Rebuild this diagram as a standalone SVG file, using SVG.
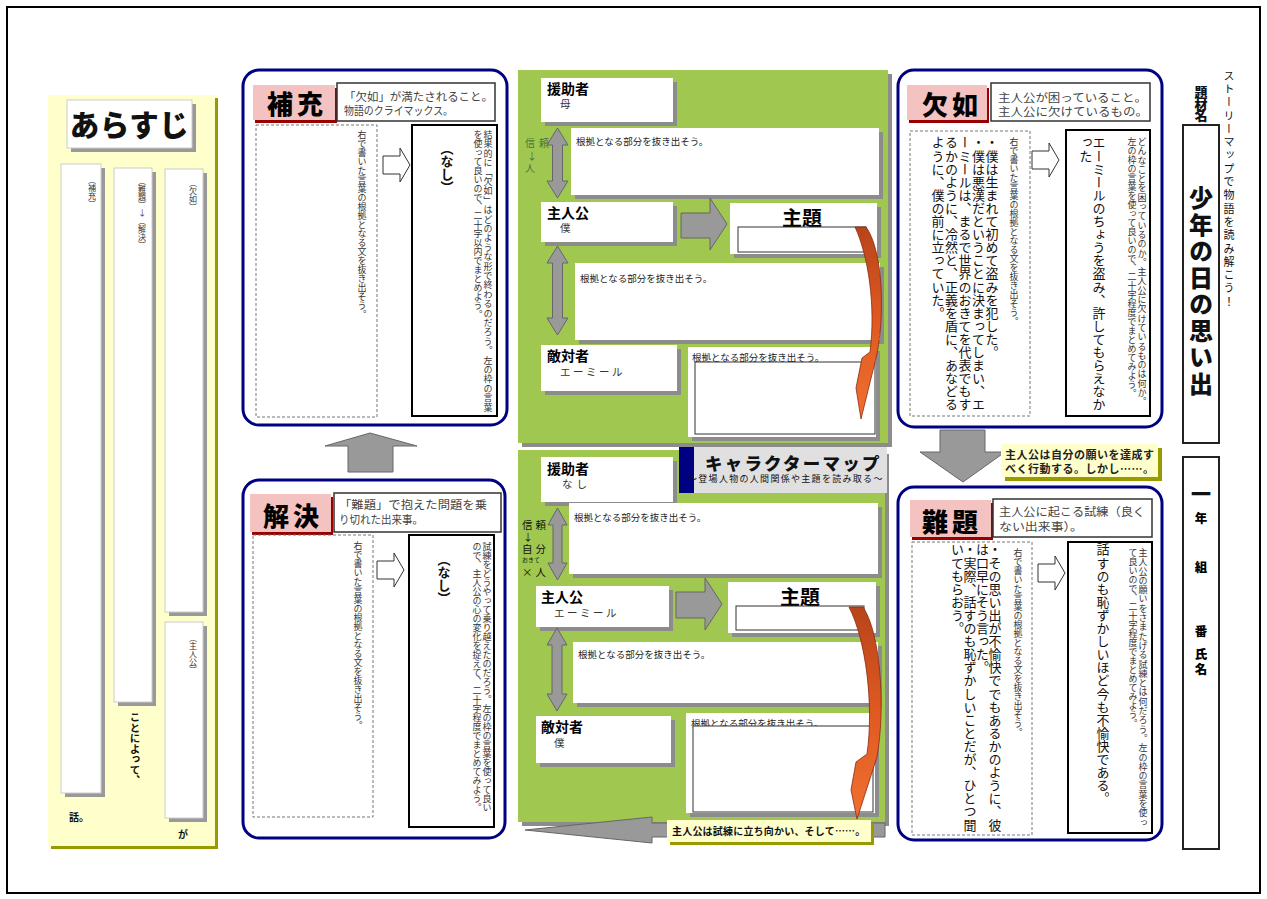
<svg xmlns="http://www.w3.org/2000/svg" width="1267" height="899" viewBox="0 0 1267 899">
<defs>
<style>
text { font-family: "Noto Sans CJK JP", "Noto Sans", sans-serif; fill:#111; }
.v { writing-mode: vertical-rl; }
.ins { font-size:9px; fill:#333; }
.big { font-size:13px; fill:#111; letter-spacing:0.1px; }
.sh { fill:#8c8c8c; }
.wb { fill:#fff; }
.blue { fill:#fff; stroke:#000080; stroke-width:3; }
.pink { fill:#f5c2c2; }
.pinksh { fill:#990000; }
.ttl { font-size:26px; font-weight:900; letter-spacing:4px; fill:#000; }
.desc { fill:#fff; stroke:#333; stroke-width:1.5; }
.dt { font-size:11.5px; fill:#444; }
.dash { fill:#fff; stroke:#777; stroke-width:1; stroke-dasharray:3 2; }
.solid { fill:#fff; stroke:#000; stroke-width:2; }
.gar { fill:#999; stroke:#666; stroke-width:1; }
.har { fill:#fff; stroke:#333; stroke-width:1; }
.green { fill:#a0c850; }
.role { font-size:14px; font-weight:700; fill:#000; }
.name { font-size:10.5px; fill:#333; }
.ev { font-size:9.5px; fill:#222; }
.theme { font-size:20px; font-weight:700; fill:#000; }
.inner { fill:#fff; stroke:#333; stroke-width:1; }
.yel { fill:#ffffcc; }
.olive { fill:#999900; }
.cl { font-size:11px; font-weight:700; fill:#222; }
.col { fill:#fff; stroke:#ccc; stroke-width:1; }
.lab { font-size:8px; fill:#333; }
.side { font-size:10px; fill:#4f6f3f; }
.nm { font-size:12.5px; font-weight:900; fill:#000; }
</style>
<linearGradient id="og" x1="0" y1="0" x2="0" y2="1">
<stop offset="0" stop-color="#b8441a"/>
<stop offset="0.5" stop-color="#e05a22"/>
<stop offset="1" stop-color="#f07030"/>
</linearGradient>
<path id="ha" d="M0,-9 H17 V-17 L27,0 L17,17 V9 H0 Z"/>
</defs>

<rect x="7" y="7" width="1253" height="886" fill="#fff" stroke="#000" stroke-width="2"/>

<!-- あらすじ -->
<g id="arasuji">
<rect x="51" y="98" width="167" height="751" class="olive"/>
<rect x="48" y="95" width="167" height="751" class="yel"/>
<rect x="71" y="104" width="125" height="48" fill="#999"/>
<rect x="67" y="100" width="125" height="48" class="col"/>
<text x="129.5" y="136" font-size="29.5" font-weight="900" text-anchor="middle" style="letter-spacing:0.5px" fill="#000">あらすじ</text>
<rect x="65" y="168" width="40" height="629" fill="#999"/>
<rect x="61" y="164" width="40" height="629" class="col"/>
<rect x="118" y="172" width="38" height="534" fill="#999"/>
<rect x="114" y="168" width="38" height="534" class="col"/>
<rect x="169" y="173" width="38" height="443" fill="#999"/>
<rect x="165" y="169" width="38" height="443" class="col"/>
<rect x="169" y="626" width="38" height="196" fill="#999"/>
<rect x="165" y="622" width="38" height="196" class="col"/>
<text class="v lab" x="92" y="176">（補充）</text>
<text class="v lab" x="142" y="177">（難題）→（解決）</text>
<text class="v lab" x="193" y="179">（欠如）</text>
<text class="v lab" x="193" y="634">（主人公）</text>
<text class="v" x="135" y="712" font-size="10.5" font-weight="700" fill="#000">ことによって、</text>
<text x="69" y="821" font-size="10" font-weight="700" fill="#000">話。</text>
<text x="178" y="838" font-size="10" font-weight="700" fill="#000">が</text>
</g>

<!-- 補充 -->
<g id="hoju">
<rect x="243" y="70" width="264" height="355" rx="16" class="blue"/>
<rect x="255" y="88" width="82" height="35" class="pinksh"/>
<rect x="253" y="85" width="82" height="35" class="pink"/>
<text x="267" y="114" class="ttl">補充</text>
<rect x="337" y="83" width="158" height="38" class="desc"/>
<text x="344" y="101" class="dt" textLength="149" lengthAdjust="spacingAndGlyphs">「欠如」が満たされること。</text>
<text x="344" y="115" class="dt" textLength="109" lengthAdjust="spacingAndGlyphs">物語のクライマックス。</text>
<rect x="256" y="125" width="121" height="292" class="dash"/>
<text class="v ins" x="362" y="130">右で書いた言葉の根拠となる文を抜き出そう。</text>
<rect x="412" y="125" width="85" height="291" class="solid"/>
<text class="v ins" x="488" y="130" style="letter-spacing:0.4px">結果的に「欠如」はどのような形で終わるのだろう。左の枠の言葉</text>
<text class="v ins" x="478" y="130">を使って良いので、二十字以内でまとめよう。</text>
<text class="v" x="447" y="142" font-size="13" font-weight="700" fill="#000">（なし）</text>
</g>

<!-- 解決 -->
<g id="kaiketsu">
<rect x="243" y="480" width="262" height="358" rx="16" class="blue"/>
<rect x="252" y="497" width="81" height="38" class="pinksh"/>
<rect x="250" y="494" width="81" height="38" class="pink"/>
<text x="263" y="526" class="ttl">解決</text>
<rect x="334" y="493" width="167" height="39" class="desc"/>
<text x="339" y="509" class="dt" textLength="148" lengthAdjust="spacingAndGlyphs">「難題」で抱えた問題を乗</text>
<text x="339" y="524" class="dt" textLength="84" lengthAdjust="spacingAndGlyphs">り切れた出来事。</text>
<rect x="253" y="535" width="120" height="282" class="dash"/>
<text class="v ins" x="358" y="541">右で書いた言葉の根拠となる文を抜き出そう。</text>
<rect x="409" y="535" width="85" height="292" class="solid"/>
<text class="v ins" x="487" y="542" font-size="8.8">試練をどうやって乗り越えたのだろう。左の枠の言葉を使って良い</text>
<text class="v ins" x="477" y="542" font-size="8.8">ので、主人公の心の変化を捉えて、二十字程度でまとめてみよう。</text>
<text class="v" x="444" y="553" font-size="13" font-weight="700" fill="#000">（なし）</text>
</g>

<!-- 欠如 -->
<g id="ketsujo">
<rect x="898" y="70" width="264" height="357" rx="16" class="blue"/>
<rect x="909" y="88" width="80" height="35" class="pinksh"/>
<rect x="907" y="85" width="80" height="35" class="pink"/>
<text x="922" y="115" class="ttl">欠如</text>
<rect x="991" y="83" width="159" height="38" class="desc"/>
<text x="998" y="102" class="dt" textLength="149" lengthAdjust="spacingAndGlyphs">主人公が困っていること。</text>
<text x="998" y="116" class="dt" textLength="150" lengthAdjust="spacingAndGlyphs">主人公に欠けているもの。</text>
<rect x="910" y="131" width="120" height="285" class="dash"/>
<text class="v ins" x="1014" y="137">右で書いた言葉の根拠となる文を抜き出そう。</text>
<text class="v big" x="992" y="136">・僕は生まれて初めて盗みを犯した。</text>
<text class="v big" x="978.5" y="136">・僕は悪漢だということに決まってしまい、エ</text>
<text class="v big" x="965" y="136">ーミールは、まるで世界のおきてを代表でもす</text>
<text class="v big" x="951.5" y="136">るかのように、冷然と、正義を盾に、あなどる</text>
<text class="v big" x="938" y="136">ように、僕の前に立っていた。</text>
<rect x="1066" y="130" width="84" height="286" class="solid"/>
<text class="v ins" x="1142" y="137" style="letter-spacing:0.3px">どんなことを困っているのか。主人公に欠けているものは何か。</text>
<text class="v ins" x="1132" y="137">左の枠の言葉を使って良いので、二十字程度でまとめてみよう。</text>
<text class="v big" x="1099" y="136">エーミールのちょうを盗み、許してもらえなか</text>
<text class="v big" x="1086" y="136">った</text>
</g>

<!-- 難題 -->
<g id="nandai">
<rect x="898" y="487" width="264" height="353" rx="16" class="blue"/>
<rect x="912" y="503" width="81" height="37" class="pinksh"/>
<rect x="910" y="500" width="81" height="37" class="pink"/>
<text x="922" y="532" class="ttl">難題</text>
<rect x="993" y="499" width="159" height="38" class="desc"/>
<text x="999" y="516" class="dt" textLength="146" lengthAdjust="spacingAndGlyphs">主人公に起こる試練（良く</text>
<text x="999" y="531" class="dt" textLength="84" lengthAdjust="spacingAndGlyphs">ない出来事）。</text>
<rect x="912" y="542" width="120" height="293" class="dash"/>
<text class="v ins" x="1018" y="548">右で書いた言葉の根拠となる文を抜き出そう。</text>
<text class="v big" x="995" y="543">・その思い出が不愉快ででもあるかのように、彼</text>
<text class="v big" x="982.5" y="543">は口早にそう言った。</text>
<text class="v big" x="970" y="543">・実際、話すのも恥ずかしいことだが、ひとつ聞</text>
<text class="v big" x="957.5" y="543">いてもらおう。</text>
<rect x="1068" y="542" width="84" height="291" class="solid"/>
<text class="v ins" x="1143" y="548" style="letter-spacing:0.3px">主人公の願いをさまたげる試練とは何だろう。左の枠の言葉を使っ</text>
<text class="v ins" x="1133" y="548">て良いので、二十字程度でまとめてみよう。</text>
<text class="v big" x="1103" y="543">話すのも恥ずかしいほど今も不愉快である。</text>
</g>

<!-- キャラクターマップ 上 -->
<g id="map-top">
<rect x="522" y="74" width="370" height="373" class="sh"/>
<rect x="518" y="70" width="370" height="373" class="green"/>
<rect x="545" y="82" width="132" height="44" class="sh"/>
<rect x="541" y="78" width="132" height="44" class="wb"/>
<text x="547" y="94" class="role">援助者</text>
<text x="560" y="108" class="name">母</text>
<rect x="575" y="132" width="308" height="67" class="sh"/>
<rect x="571" y="128" width="308" height="67" class="wb"/>
<text x="576" y="145" class="ev">根拠となる部分を抜き出そう。</text>
<rect x="545" y="206" width="132" height="40" class="sh"/>
<rect x="541" y="202" width="132" height="40" class="wb"/>
<text x="547" y="218" class="role">主人公</text>
<text x="560" y="232" class="name">僕</text>
<rect x="734" y="207" width="147" height="51" class="sh"/>
<rect x="730" y="203" width="147" height="51" class="wb"/>
<text x="802" y="226" class="theme" text-anchor="middle">主題</text>
<rect x="738" y="227" width="128" height="25" class="inner"/>
<rect x="579" y="267" width="305" height="77" class="sh"/>
<rect x="575" y="263" width="305" height="77" class="wb"/>
<text x="580" y="282" class="ev">根拠となる部分を抜き出そう。</text>
<rect x="545" y="349" width="136" height="46" class="sh"/>
<rect x="541" y="345" width="136" height="46" class="wb"/>
<text x="547" y="361" class="role">敵対者</text>
<text x="560" y="376" class="name" style="letter-spacing:2.5px">エーミール</text>
<rect x="692" y="351" width="188" height="90" class="sh"/>
<rect x="688" y="347" width="188" height="90" class="wb"/>
<text x="692" y="361" class="ev">根拠となる部分を抜き出そう。</text>
<rect x="695" y="362" width="180" height="72" class="inner"/>
<text x="525" y="147" class="side" style="letter-spacing:4px">信頼</text>
<text x="527" y="160" class="side">↓</text>
<text x="525" y="172" class="side">人</text>
</g>

<!-- キャラクターマップ 下 -->
<g id="map-bottom">
<rect x="522" y="454" width="367" height="372" class="sh"/>
<rect x="518" y="450" width="367" height="372" class="green"/>
<rect x="694" y="447" width="193" height="46" fill="#e0e0e0"/>
<rect x="679" y="447" width="15" height="46" fill="#000080"/>
<text x="705" y="470" font-size="17.5" font-weight="900" fill="#000" style="letter-spacing:2.2px">キャラクターマップ</text>
<text x="688" y="482" font-size="9" fill="#333" style="letter-spacing:1.3px">～登場人物の人間関係や主題を読み取る～</text>
<rect x="545" y="461" width="132" height="45" class="sh"/>
<rect x="541" y="457" width="132" height="45" class="wb"/>
<text x="547" y="474" class="role">援助者</text>
<text x="562" y="488" class="name" style="letter-spacing:4px">なし</text>
<rect x="573" y="507" width="309" height="71" class="sh"/>
<rect x="569" y="503" width="309" height="71" class="wb"/>
<text x="574" y="521" class="ev">根拠となる部分を抜き出そう。</text>
<rect x="540" y="590" width="133" height="41" class="sh"/>
<rect x="536" y="586" width="133" height="41" class="wb"/>
<text x="541" y="602" class="role">主人公</text>
<text x="554" y="617" class="name" style="letter-spacing:2.5px">エーミール</text>
<rect x="732" y="586" width="148" height="51" class="sh"/>
<rect x="728" y="582" width="148" height="51" class="wb"/>
<text x="800" y="605" class="theme" text-anchor="middle">主題</text>
<rect x="736" y="606" width="128" height="24" class="inner"/>
<rect x="577" y="646" width="305" height="61" class="sh"/>
<rect x="573" y="642" width="305" height="61" class="wb"/>
<text x="578" y="658" class="ev">根拠となる部分を抜き出そう。</text>
<rect x="540" y="720" width="135" height="47" class="sh"/>
<rect x="536" y="716" width="135" height="47" class="wb"/>
<text x="541" y="732" class="role">敵対者</text>
<text x="554" y="747" class="name">僕</text>
<rect x="690" y="717" width="189" height="100" class="sh"/>
<rect x="686" y="713" width="189" height="100" class="wb"/>
<text x="691" y="727" class="ev">根拠となる部分を抜き出そう。</text>
<rect x="693" y="726" width="180" height="86" class="inner"/>
<text x="522" y="529" font-size="10.5" fill="#555" style="letter-spacing:3px">信頼</text>
<text x="523" y="541" font-size="10" fill="#555">↓</text>
<text x="522" y="553" font-size="10.5" fill="#555" style="letter-spacing:3px">自分</text>
<text x="522" y="562" font-size="6" fill="#555">おきて</text>
<text x="522" y="576" font-size="10.5" fill="#555" style="letter-spacing:3px">×人</text>
</g>

<!-- 題材名 -->
<g id="title">
<text class="v" x="1201" y="86" font-size="13" font-weight="900" fill="#000" style="letter-spacing:-1.5px">題材名</text>
<rect x="1183" y="125" width="36" height="318" fill="#fff" stroke="#222" stroke-width="2"/>
<text class="v" x="1201" y="186" font-size="24" font-weight="900" fill="#000" style="letter-spacing:2.5px">少年の日の思い出</text>
<text class="v" x="1229" y="70" font-size="11" fill="#555" style="letter-spacing:2.3px">ストーリーマップで物語を読み解こう！</text>
</g>
<g id="name">
<rect x="1183" y="457" width="36" height="392" fill="#fff" stroke="#222" stroke-width="2"/>
<text x="1201" y="502" font-size="20" font-weight="900" text-anchor="middle" fill="#000">一</text>
<text x="1201" y="523" class="nm" text-anchor="middle">年</text>
<text x="1201" y="572" class="nm" text-anchor="middle">組</text>
<text x="1201" y="636" class="nm" text-anchor="middle">番</text>
<text x="1201" y="659" class="nm" text-anchor="middle">氏</text>
<text x="1201" y="674" class="nm" text-anchor="middle">名</text>
</g>

<!-- connectors -->
<g id="connectors">
<polygon class="gar" points="348,472 393,472 393,446 417,446 370,433 325,446 348,446"/>
<polygon class="gar" points="940,430 985,430 985,452 1005,452 963,482 920,452 940,452"/>
<polygon class="gar" points="525,830 652,817 652,823 885,823 885,837 652,837 652,843"/>
<use href="#ha" class="har" x="383" y="165"/>
<use href="#ha" class="har" x="377" y="570"/>
<use href="#ha" class="har" x="1032" y="160"/>
<use href="#ha" class="har" x="1038" y="573"/>
<polygon class="gar" points="557.5,128 568,145 562.5,145 562.5,181 568,181 557.5,198 547,181 552.5,181 552.5,145 547,145"/>
<polygon class="gar" points="557.5,246 568,263 562.5,263 562.5,318 568,318 557.5,335 547,318 552.5,318 552.5,263 547,263"/>
<polygon class="gar" points="557.5,508 567,525 562,525 562,563 567,563 557.5,580 548,563 553,563 553,525 548,525"/>
<polygon class="gar" points="557,628 567,645 562,645 562,694 567,694 557,711 547,694 552,694 552,645 547,645"/>
<polygon class="gar" points="681,213 710,213 710,198 727,224 710,250 710,238 681,238"/>
<polygon class="gar" points="676,592 705,592 705,578 722,604 705,630 705,618 676,618"/>
<path d="M855,227 L866,227 C881,247 886,305 877,354 L861,419 L856,388 L862,358 L870,352 C876,305 868,255 855,227 Z" fill="url(#og)" stroke="#8a2a10" stroke-width="0.8"/>
<path d="M849,607 L863,607 C880,632 886,705 877,757 L857,819 L851,790 L856,762 L867,754 C874,705 866,640 849,607 Z" fill="url(#og)" stroke="#8a2a10" stroke-width="0.8"/>
</g>

<!-- callouts -->
<g id="callout-bottom">
<rect x="670" y="823" width="204" height="22" class="olive"/>
<rect x="667" y="820" width="204" height="22" class="yel"/>
<text x="672" y="835" font-size="10" font-weight="700" fill="#222" style="letter-spacing:0.2px">主人公は試練に立ち向かい、そして……。</text>
</g>
<g id="callout-right">
<rect x="1005" y="448" width="157" height="33" class="olive"/>
<rect x="1001" y="444" width="157" height="33" class="yel"/>
<text x="1005" y="459" class="cl" style="letter-spacing:0.5px">主人公は自分の願いを達成す</text>
<text x="1005" y="473" class="cl" style="letter-spacing:0.5px">べく行動する。しかし……。</text>
</g>
</svg>
